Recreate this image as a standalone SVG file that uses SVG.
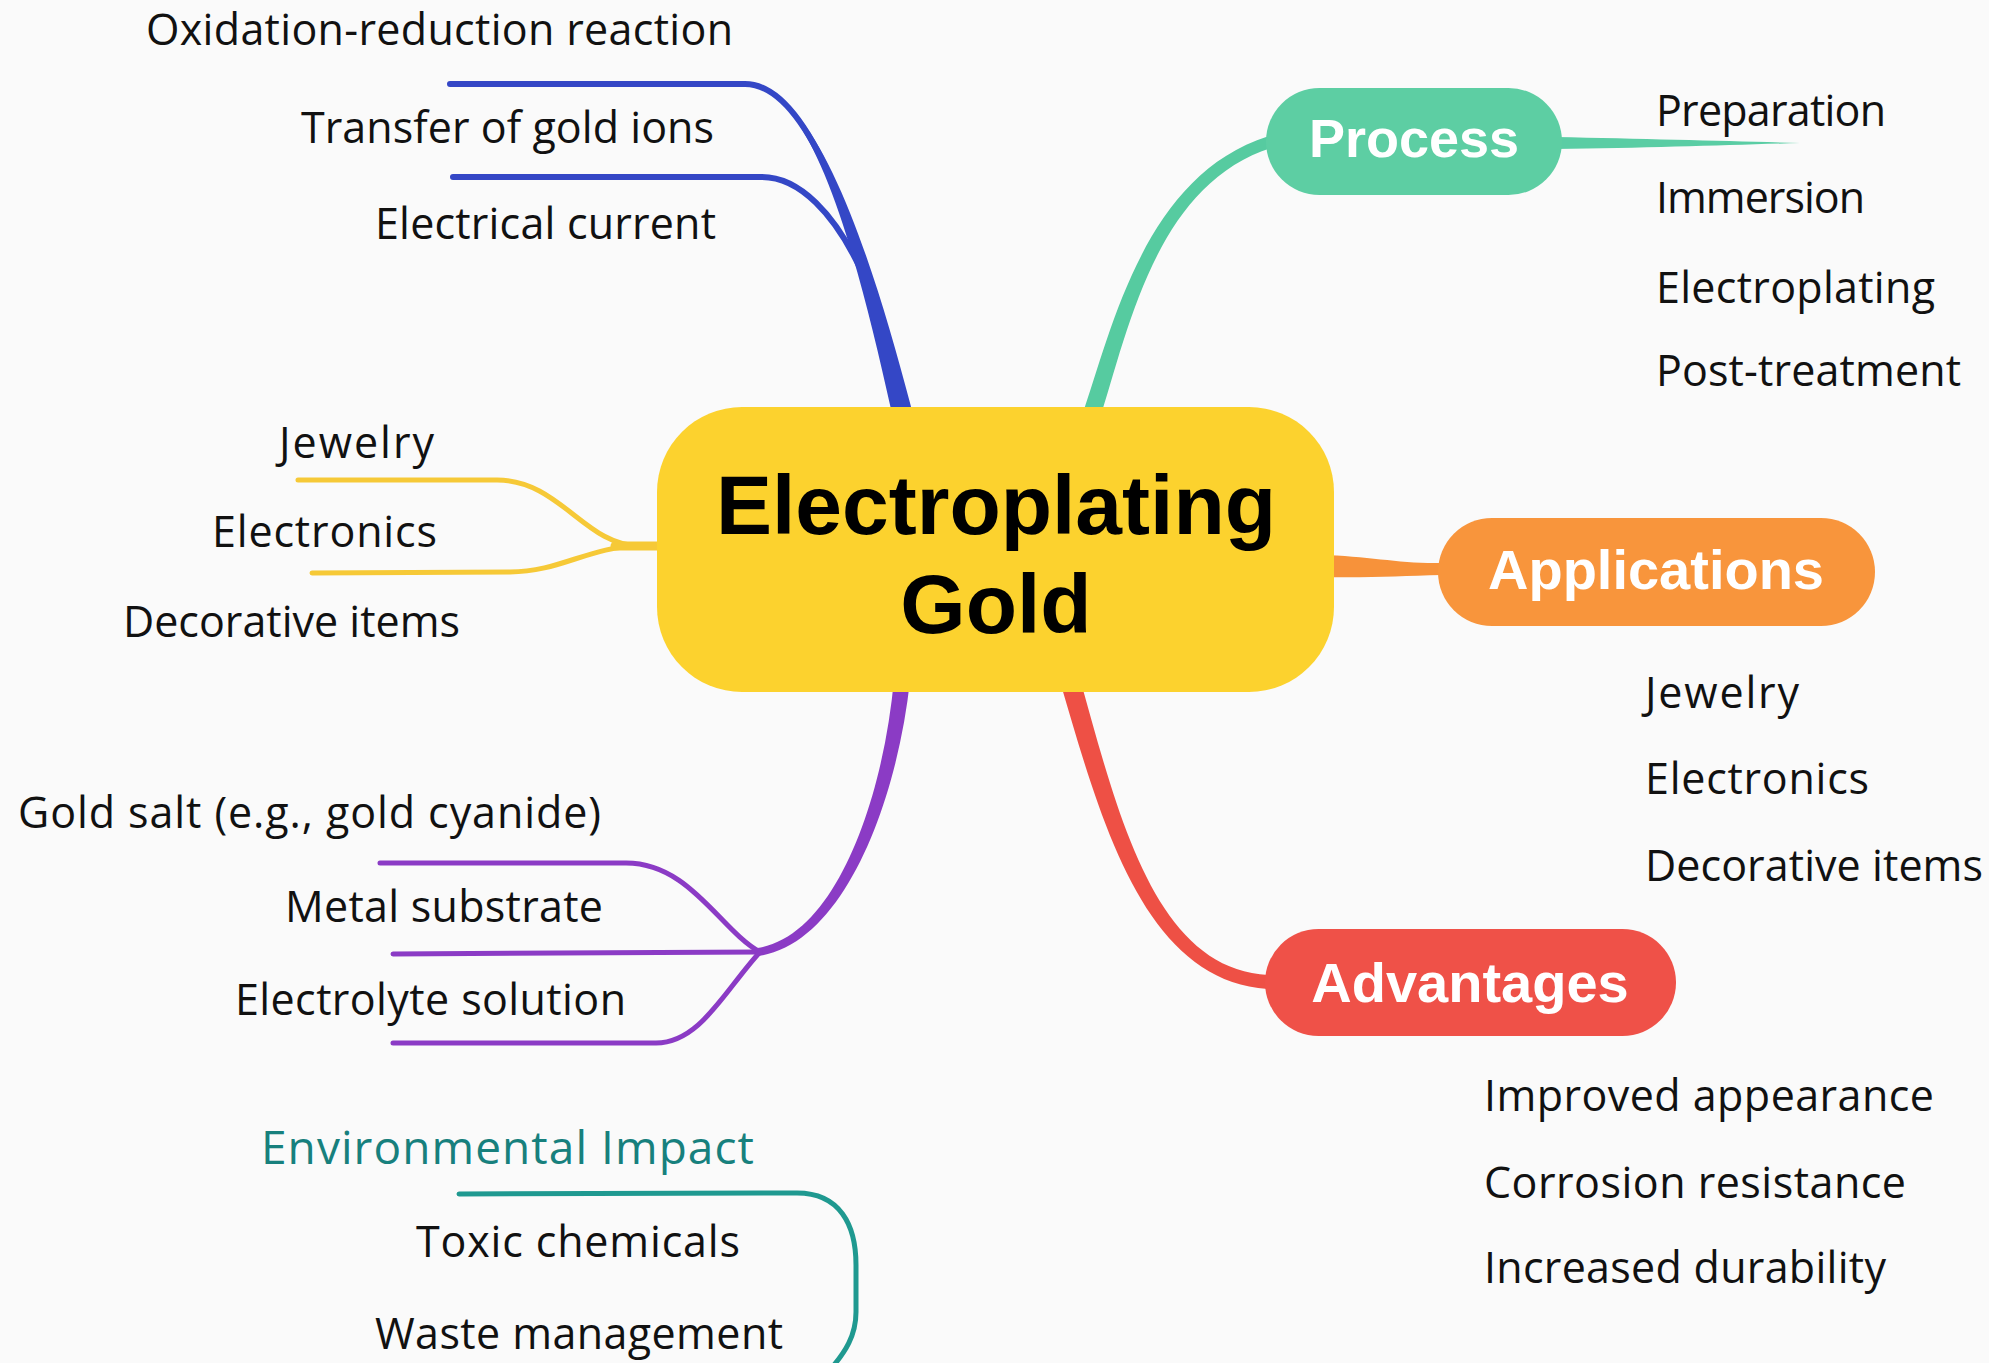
<svg xmlns="http://www.w3.org/2000/svg" width="1989" height="1363" viewBox="0 0 1989 1363">
<style>
.t{font-family:"Open Sans","Liberation Sans",Arial,sans-serif;font-size:43px;fill:#111}
.env{fill:#17807D;font-size:46px}
.nl{font-family:"Liberation Sans",Arial,sans-serif;font-weight:bold;font-size:56px;fill:#fff;text-anchor:middle}
.title{font-family:"Liberation Sans",Arial,sans-serif;font-weight:bold;font-size:84px;fill:#000;text-anchor:middle}
.ln{fill:none;stroke-linecap:round;stroke-linejoin:round;stroke-width:5}
.blue{stroke:#3447C6;stroke-width:6}
.purple{stroke:#8B3BC5}
.yellow{stroke:#F6C937}
.teal{stroke:#1F9990}
</style>
<rect x="0" y="0" width="1989" height="1363" fill="#FAFAFA"/>
<g id="connectors">
  <!-- blue: mechanism -->
  <path class="ln blue" d="M450 84 L745 84 C815 84 865 260 901 408"/>
  <path class="ln blue" d="M453 177 L762 177 C800 177 835 215 860 268"/>
  <path fill="#3447C6" d="M795.4 112.5 C842.8 168.7 881.7 295 910.7 405.6 L915 425 L893 425 L891.3 410.4 C866.3 299 835.4 171.9 792.2 115.1 Z"/>
  <!-- teal: process -->
  <path fill="#56CBA0" d="M1098.5 422.8 C1127.8 331.9 1155.5 184.4 1271.8 147.7 L1268.2 136.3 C1144.5 175.6 1112.2 328.1 1081.5 417.2 Z"/>
  <path fill="#5ACDA4" d="M1555 137 C1650 139 1730 141 1800 143 C1730 145 1650 148 1555 149 Z"/>
  <!-- orange: applications -->
  <path fill="#F7923A" d="M1320 555 C1370 556 1400 564 1442 563 L1442 575 C1400 576 1370 578 1320 577 Z"/>
  <!-- red: advantages -->
  <path fill="#EE5045" d="M1079.6 677.3 C1118.7 817.6 1155.7 969.4 1268.4 975 L1280 975 L1280 989 L1267.6 989 C1144.3 980.6 1101.3 822.4 1060.4 682.7 Z"/>
  <!-- yellow: uses -->
  <path class="ln yellow" d="M298 480 L497 480 C560 480 585 546 640 546"/>
  <path class="ln yellow" d="M312 573 L510 572 C560 572 590 546 640 546"/>
  <path class="ln yellow" style="stroke-width:9" d="M615 546 L665 546"/>
  <!-- purple: materials -->
  <path fill="#8B3BC5" d="M910 680.8 C896.8 801.6 844.2 943.6 758.6 956 L757.4 948 C835.8 936.4 883.2 798.4 894 679.2 Z"/>
  <path class="ln purple" d="M380 863 L626 863 C690 863 720 930 760 952"/>
  <path class="ln purple" d="M393 954 L760 952"/>
  <path class="ln purple" d="M393 1043 L656 1043 C700 1043 725 990 760 952"/>
  <!-- teal: environmental impact -->
  <path class="ln teal" d="M459 1194 L797 1193 C840 1193 856 1225 856 1265 L856 1312 C856 1335 846 1352 828 1372"/>
</g>
<g id="node-center">
  <rect x="657" y="407" width="677" height="285" rx="85" fill="#FCD22E"/>
  <text class="title" x="996" y="534">Electroplating</text>
  <text class="title" x="996" y="633">Gold</text>
</g>
<g id="node-process">
  <rect x="1266" y="88" width="296" height="107" rx="53.5" fill="#5DCEA3"/>
  <text class="nl" x="1414" y="157" style="font-size:54px">Process</text>
</g>
<g id="node-applications">
  <rect x="1438" y="518" width="437" height="108" rx="54" fill="#F8953C"/>
  <text class="nl" x="1656" y="589">Applications</text>
</g>
<g id="node-advantages">
  <rect x="1265" y="929" width="411" height="107" rx="53.5" fill="#EF5148"/>
  <text class="nl" x="1470" y="1002">Advantages</text>
</g>
<g id="leaf-oxidation"><text class="t" x="146" y="45" textLength="587" lengthAdjust="spacing">Oxidation-reduction reaction</text></g>
<g id="leaf-transfer"><text class="t" x="301" y="143" textLength="413" lengthAdjust="spacing">Transfer of gold ions</text></g>
<g id="leaf-current"><text class="t" x="375" y="239" textLength="341" lengthAdjust="spacing">Electrical current</text></g>
<g id="leaf-jewelry-l"><text class="t" x="279" y="458" textLength="155" lengthAdjust="spacing">Jewelry</text></g>
<g id="leaf-electronics-l"><text class="t" x="212" y="547" textLength="225" lengthAdjust="spacing">Electronics</text></g>
<g id="leaf-decorative-l"><text class="t" x="123" y="637" textLength="337" lengthAdjust="spacing">Decorative items</text></g>
<g id="leaf-goldsalt"><text class="t" x="18" y="828" textLength="583" lengthAdjust="spacing">Gold salt (e.g., gold cyanide)</text></g>
<g id="leaf-substrate"><text class="t" x="285" y="922" textLength="318" lengthAdjust="spacing">Metal substrate</text></g>
<g id="leaf-electrolyte"><text class="t" x="235" y="1015" textLength="391" lengthAdjust="spacing">Electrolyte solution</text></g>
<g id="node-environmental"><text class="t env" x="261" y="1164" textLength="493" lengthAdjust="spacing">Environmental Impact</text></g>
<g id="leaf-toxic"><text class="t" x="416" y="1257" textLength="324" lengthAdjust="spacing">Toxic chemicals</text></g>
<g id="leaf-waste"><text class="t" x="375" y="1349" textLength="408" lengthAdjust="spacing">Waste management</text></g>
<g id="leaf-preparation"><text class="t" x="1656" y="126" textLength="230" lengthAdjust="spacing">Preparation</text></g>
<g id="leaf-immersion"><text class="t" x="1656" y="213" textLength="209" lengthAdjust="spacing">Immersion</text></g>
<g id="leaf-electroplating"><text class="t" x="1656" y="303" textLength="279" lengthAdjust="spacing">Electroplating</text></g>
<g id="leaf-posttreatment"><text class="t" x="1656" y="386" textLength="305" lengthAdjust="spacing">Post-treatment</text></g>
<g id="leaf-jewelry-r"><text class="t" x="1645" y="708" textLength="154" lengthAdjust="spacing">Jewelry</text></g>
<g id="leaf-electronics-r"><text class="t" x="1645" y="794" textLength="224" lengthAdjust="spacing">Electronics</text></g>
<g id="leaf-decorative-r"><text class="t" x="1645" y="881" textLength="338" lengthAdjust="spacing">Decorative items</text></g>
<g id="leaf-appearance"><text class="t" x="1484" y="1111" textLength="450" lengthAdjust="spacing">Improved appearance</text></g>
<g id="leaf-corrosion"><text class="t" x="1484" y="1198" textLength="422" lengthAdjust="spacing">Corrosion resistance</text></g>
<g id="leaf-durability"><text class="t" x="1484" y="1283" textLength="402" lengthAdjust="spacing">Increased durability</text></g>
</svg>
